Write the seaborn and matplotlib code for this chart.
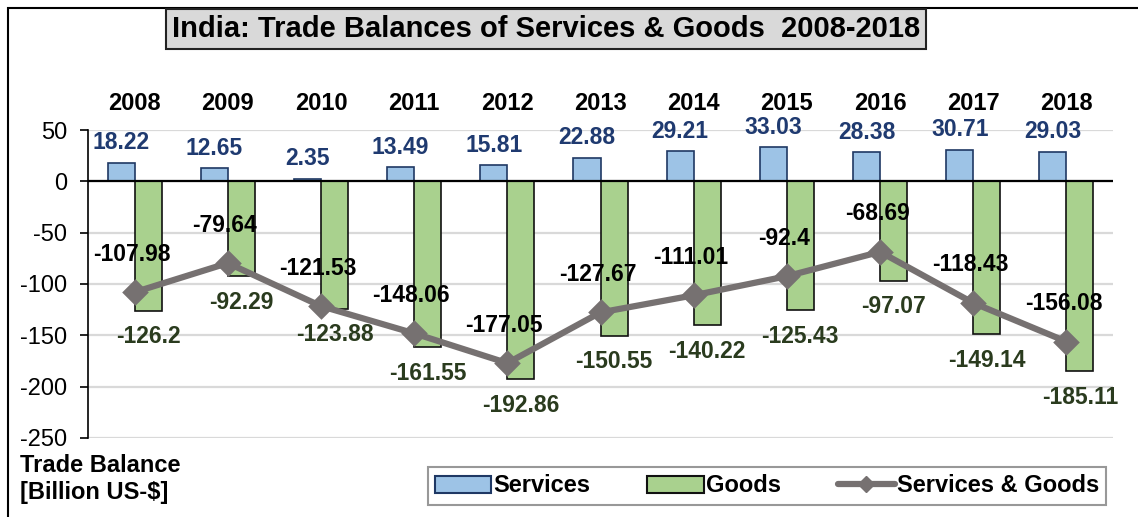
import numpy as np
import pandas as pd
import matplotlib.pyplot as plt
import seaborn as sns
from matplotlib.patches import Patch, Rectangle
from matplotlib.lines import Line2D

years = ["2008", "2009", "2010", "2011", "2012", "2013", "2014", "2015", "2016", "2017", "2018"]
services = [18.22, 12.65, 2.35, 13.49, 15.81, 22.88, 29.21, 33.03, 28.38, 30.71, 29.03]
goods = [-126.2, -92.29, -123.88, -161.55, -192.86, -150.55, -140.22, -125.43, -97.07, -149.14, -185.11]
total = [-107.98, -79.64, -121.53, -148.06, -177.05, -127.67, -111.01, -92.4, -68.69, -118.43, -156.08]
services_lbl = ["18.22", "12.65", "2.35", "13.49", "15.81", "22.88", "29.21", "33.03", "28.38", "30.71", "29.03"]
goods_lbl = ["-126.2", "-92.29", "-123.88", "-161.55", "-192.86", "-150.55", "-140.22", "-125.43", "-97.07", "-149.14", "-185.11"]
total_lbl = ["-107.98", "-79.64", "-121.53", "-148.06", "-177.05", "-127.67", "-111.01", "-92.4", "-68.69", "-118.43", "-156.08"]

sns.set_theme(style="white")
plt.rcParams['font.family'] = ['Liberation Sans', 'DejaVu Sans']
plt.rcParams['axes.unicode_minus'] = False
plt.rcParams['text.color'] = 'black'
plt.rcParams['xtick.color'] = 'black'
plt.rcParams['ytick.color'] = 'black'

df = pd.DataFrame({"year": years * 2,
                   "value": services + goods,
                   "kind": ["Services"] * len(years) + ["Goods"] * len(years)})
df_line = pd.DataFrame({"year": years, "total": total})

fig = plt.figure(figsize=(11.38, 5.17), dpi=100)
ax = fig.add_axes([88 / 1138, 1 - 438 / 517, (1113 - 88) / 1138, (438 - 130) / 517])

c_serv, c_goods = "#9DC3E6", "#A9D18E"
sns.barplot(data=df, x="year", y="value", hue="kind", order=years,
            hue_order=["Services", "Goods"], palette=[c_serv, c_goods],
            width=0.58, gap=0, ax=ax, legend=False, saturation=1)
# bar edges
for i, p in enumerate(ax.patches):
    if i < len(years):
        p.set_edgecolor("#1F3864")
    else:
        p.set_edgecolor("#111111")
    p.set_linewidth(1.2)

sns.pointplot(data=df_line, x="year", y="total", order=years, color="#767171",
              markers="D", markersize=10, linewidth=4.5, ax=ax, zorder=5)

ax.set_ylim(-250, 50)
ax.set_xlim(-0.5, 10.5)
ax.set_yticks(np.arange(-250, 51, 50))
ax.yaxis.grid(True, color="#D9D9D9", linewidth=1.6)
ax.set_axisbelow(True)
ax.axhline(0, color="black", linewidth=1.6, zorder=3)
for s in ["top", "right", "bottom"]:
    ax.spines[s].set_visible(False)
ax.spines["left"].set_color("black")
ax.spines["left"].set_linewidth(1.2)
ax.tick_params(axis="y", left=True, length=6, width=1.2, color="black",
               labelsize=17, pad=9)
ax.xaxis.tick_top()
ax.tick_params(axis="x", top=False, bottom=False, labelsize=17, pad=5)
for t in ax.get_xticklabels():
    t.set_fontweight("bold")
ax.set_xlabel("")
ax.set_ylabel("")

# data labels
bw = 0.29
for i in range(len(years)):
    ax.annotate(services_lbl[i], (i - bw / 2, services[i]), xytext=(0, 20),
                textcoords="offset pixels", ha="center", va="center",
                fontsize=16.5, fontweight="bold", color="#1F3A70")
    ax.annotate(goods_lbl[i], (i + bw / 2, goods[i]), xytext=(0, -26),
                textcoords="offset pixels", ha="center", va="center",
                fontsize=16.5, fontweight="bold", color="#2A3B1E")
    ax.annotate(total_lbl[i], (i, total[i]), xytext=(-3, 38),
                textcoords="offset pixels", ha="center", va="center",
                fontsize=16.5, fontweight="bold", color="black", zorder=6)

# title
fig.text(546 / 1138, 1 - 29 / 517, "India: Trade Balances of Services & Goods  2008-2018",
         ha="center", va="center", fontsize=21, fontweight="bold",
         bbox=dict(boxstyle="square,pad=0.2", facecolor="#D9D9D9",
                   edgecolor="#222222", linewidth=1.5))

fig.text(20 / 1138, 1 - 466 / 517, "Trade Balance", ha="left", va="center",
         fontsize=17, fontweight="bold")
fig.text(20 / 1138, 1 - 493 / 517, "[Billion US-$]", ha="left", va="center",
         fontsize=17, fontweight="bold")

handles = [Patch(facecolor=c_serv, edgecolor="#1F3864", linewidth=1.5),
           Patch(facecolor=c_goods, edgecolor="#111111", linewidth=1.5),
           Line2D([], [], color="#767171", linewidth=4.5, marker="D", markersize=8)]
leg = fig.legend(handles, ["Services", "Goods", "Services & Goods"], ncol=3,
                 loc="center", bbox_to_anchor=(767 / 1138, 1 - 486 / 517),
                 fancybox=False, frameon=True, edgecolor="#7F7F7F",
                 prop=dict(size=17, weight="bold"), handlelength=2.4,
                 handletextpad=0.1, columnspacing=2.4, borderpad=0.3)
leg.get_frame().set_linewidth(1.5)

# outer border
fig.patches.append(Rectangle((8 / 1138, -0.05), 1.2, 1 - 8 / 517 + 0.05,
                             transform=fig.transFigure, fill=False,
                             edgecolor="black", linewidth=1.5))

fig.savefig("out.png", dpi=100)
